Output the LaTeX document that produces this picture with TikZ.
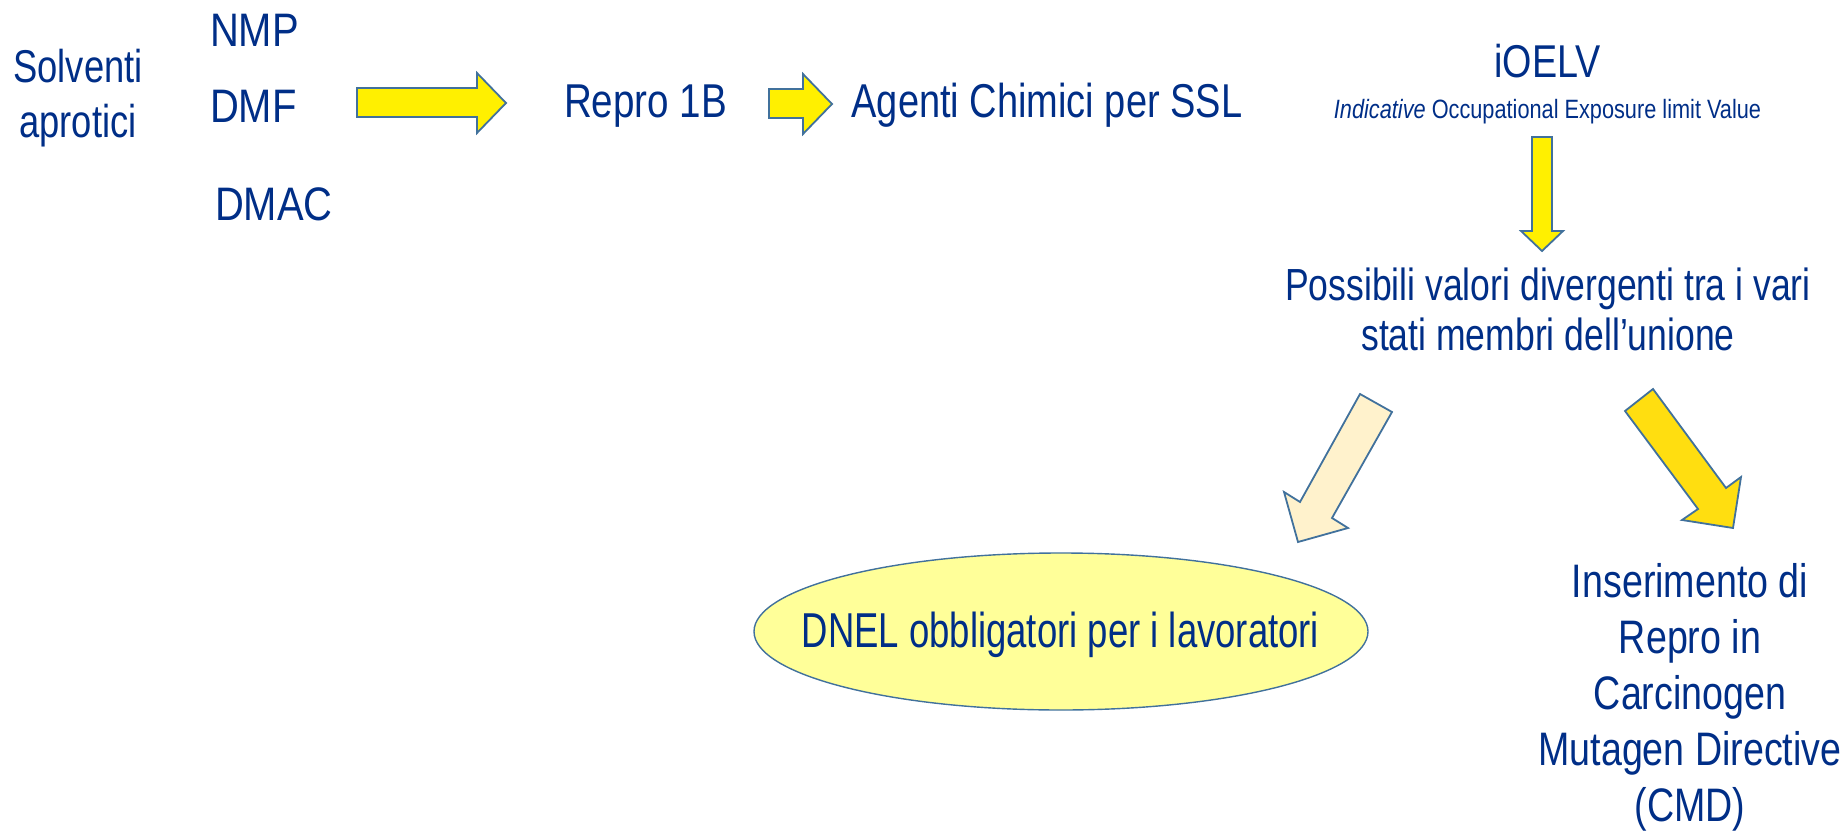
\documentclass[tikz,border=0pt]{standalone}
\usepackage{fontspec}
\setmainfont{Liberation Sans}
\usepackage{graphicx}
\definecolor{txt}{RGB}{0,46,135}
\definecolor{edgeblue}{RGB}{65,113,156}
\definecolor{ayel}{RGB}{255,240,0}
\definecolor{agold}{RGB}{255,222,16}
\definecolor{acream}{RGB}{255,242,204}
\definecolor{ellfill}{RGB}{255,255,153}
\newcommand{\sqz}[2]{\scalebox{#1}[1]{#2}}
\begin{document}
\begin{tikzpicture}[x=1pt,y=-1pt,
  lbl/.style={inner sep=0pt, outer sep=0pt, text=txt, anchor=base},
  blockarrow/.style={draw=edgeblue, line width=1.8pt, line join=miter},
]
\useasboundingbox (0,0) rectangle (1847,832);

% left column
\node[lbl, font=\fontsize{46}{55}\selectfont] (solv) at (78,83)
  {\sqz{0.79}{\begin{tabular}[t]{@{}c@{}}Solventi\\aprotici\end{tabular}}};
\node[lbl, anchor=base west, font=\fontsize{47}{57}\selectfont] (nmp) at (210,47) {\sqz{0.85}{NMP}};
\node[lbl, anchor=base west, font=\fontsize{47}{57}\selectfont] (dmf) at (210,123) {\sqz{0.85}{DMF}};
\node[lbl, anchor=base west, font=\fontsize{47}{57}\selectfont] (dmac) at (215,220) {\sqz{0.85}{DMAC}};

% top row
\node[lbl, font=\fontsize{47.5}{57}\selectfont] (repro) at (645.5,118) {\sqz{0.812}{Repro 1B}};
\node[lbl, font=\fontsize{47.5}{57}\selectfont] (agenti) at (1047,118) {\sqz{0.80}{Agenti Chimici per SSL}};
\node[lbl, font=\fontsize{46}{55}\selectfont] (ioelv) at (1547.5,78) {\sqz{0.82}{iOELV}};
\node[lbl, font=\fontsize{26.5}{30}\selectfont] (indic) at (1547.5,119)
  {\sqz{0.82}{\textit{Indicative} Occupational Exposure limit Value}};

% middle
\node[lbl, font=\fontsize{45}{50}\selectfont] (poss) at (1548,300)
  {\sqz{0.79}{\begin{tabular}[t]{@{}c@{}}Possibili valori divergenti tra i vari\\stati membri dell’unione\end{tabular}}};

% ellipse
\draw[draw=edgeblue, line width=1.4pt, fill=ellfill] (1061,631.5) ellipse [x radius=307, y radius=78.5];
\node[lbl, font=\fontsize{49}{58}\selectfont] (dnel) at (1060.5,647) {\sqz{0.745}{DNEL obbligatori per i lavoratori}};

% CMD block
\node[lbl, font=\fontsize{47}{56}\selectfont] (cmd) at (1690,597)
  {\sqz{0.80}{\begin{tabular}[t]{@{}c@{}}Inserimento di\\Repro in\\Carcinogen\\Mutagen Directive\\(CMD)\end{tabular}}};

% block arrows
\draw[blockarrow, fill=ayel] (357,88) -- (477,88) -- (477,73) -- (506,103) -- (477,133) -- (477,117) -- (357,117) -- cycle;
\draw[blockarrow, fill=ayel] (769,89) -- (803,89) -- (803,74) -- (832,104) -- (803,134) -- (803,118) -- (769,118) -- cycle;
\draw[blockarrow, fill=ayel] (1532,137) -- (1552,137) -- (1552,231) -- (1563,231) -- (1542,251) -- (1521,231) -- (1532,231) -- cycle;
\draw[blockarrow, fill=acream] (1360,394) -- (1392,412) -- (1332,518) -- (1348,528) -- (1298,542) -- (1284,492) -- (1300,502) -- cycle;
\draw[blockarrow, fill=agold] (1653,389) -- (1726,488) -- (1741,477) -- (1733,528) -- (1682,520) -- (1698,509) -- (1625,411) -- cycle;
\end{tikzpicture}
\end{document}
